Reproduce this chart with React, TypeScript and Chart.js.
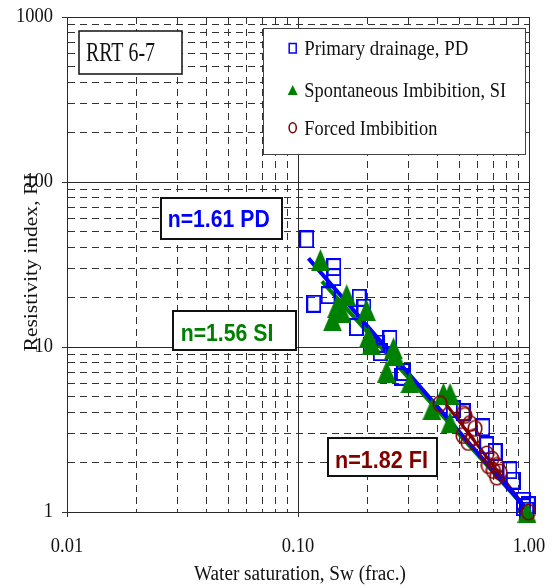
import React, { useEffect, useRef } from 'react';
import { Chart, registerables } from 'chart.js';

Chart.register(...registerables);

// Primary drainage (PD): water saturation (frac.) and resistivity index
const PD_SW = [0.109, 0.143, 0.143, 0.117, 0.135, 0.184, 0.193, 0.179, 0.205, 0.22, 0.25, 0.227, 0.286, 0.281, 0.47, 0.519, 0.632, 0.656, 0.713, 0.827, 0.855, 0.945, 0.993, 0.945, 0.977];
const PD_RI = [44.9, 30.5, 26.5, 18.3, 20.6, 19.9, 17.3, 13.2, 10.2, 10.5, 11.2, 9.3, 7.05, 6.6, 4.2, 4.03, 3.26, 2.53, 2.31, 1.79, 1.55, 1.17, 1.1, 1.07, 1.02];

// Spontaneous imbibition (SI)
const SI_SW = [0.125, 0.1625, 0.147, 0.141, 0.155, 0.198, 0.2015, 0.208, 0.259, 0.242, 0.305, 0.263, 0.38, 0.426, 0.455, 0.455, 0.98];
const SI_RI = [33.6, 20.6, 17.5, 14.5, 16.3, 16.7, 11.5, 10.5, 9.8, 7.1, 6.1, 8.9, 4.2, 5.2, 5.2, 3.49, 1.0];

// Forced imbibition (FI)
const FI_SW = [0.412, 0.52, 0.528, 0.5555, 0.584, 0.518, 0.572, 0.545, 0.656, 0.69, 0.725, 0.667, 0.701, 0.749, 0.725, 0.995];
const FI_RI = [4.54, 3.95, 3.85, 3.44, 3.21, 2.91, 2.83, 2.64, 2.25, 2.1, 1.915, 1.915, 1.786, 1.744, 1.626, 1.0];

// Saturation exponents (RI = Sw^-n) and the Sw span of each fitted line
const N_PD = 1.61;
const N_SI = 1.56;
const N_FI = 1.82;
const FIT_SW_PD = [0.111, 1.0];
const FIT_SW_SI = [0.127, 1.0];
const FIT_SW_FI = [0.41, 1.0];

const SERIES_NAMES = ['Primary drainage, PD', 'Spontaneous Imbibition, SI', 'Forced Imbibition'];
const SAMPLE_NAME = 'RRT 6-7';

const X_TICKS = [0.01, 0.1, 1];
const X_TICK_LABELS = ['0.01', '0.10', '1.00'];
const Y_TICKS = [1, 10, 100, 1000];
const Y_TICK_LABELS = ['1', '10', '100', '1000'];
const X_TITLE = 'Water saturation, Sw (frac.)';
const Y_TITLE = 'Resistivity index, RI';

const BLUE = '#0000ff';
const GREEN = '#008000';
const DARK_RED = '#800000';
const INK = '#111111';
const SERIF = '"Liberation Serif", "Times New Roman", serif';
const SANS = '"Liberation Sans", Arial, sans-serif';

const toPoints = (xs: number[], ys: number[]) => xs.map((x, i) => ({ x, y: ys[i] }));
const fitLine = (span: number[], n: number) => span.map((sw) => ({ x: sw, y: Math.pow(sw, -n) }));

// grid positions: 1..9 times every decade, plus the upper limit
function decadeGrid(lo: number, hi: number) {
  const out: { value: number }[] = [];
  for (let d = lo; d < hi * 0.999; d *= 10) {
    for (let m = 1; m <= 9; m++) out.push({ value: +(m * d).toPrecision(6) });
  }
  out.push({ value: hi });
  return out;
}

const isDecade = (v: number) => {
  const l = Math.log10(v);
  return Math.abs(l - Math.round(l)) < 1e-6;
};

function drawLabel(
  ctx: CanvasRenderingContext2D,
  str: string,
  x: number,
  y: number,
  font: string,
  color: string,
  align: 'left' | 'center' | 'right',
  fitWidth?: number,
  sx = 1,
  baseline: CanvasTextBaseline = 'alphabetic'
) {
  ctx.save();
  ctx.font = font;
  ctx.fillStyle = color;
  ctx.textAlign = 'left';
  ctx.textBaseline = baseline;
  const natural = ctx.measureText(str).width;
  const s = fitWidth ? fitWidth / natural : sx;
  const w = natural * s;
  const left = align === 'center' ? x - w / 2 : align === 'right' ? x - w : x;
  ctx.translate(left, y);
  ctx.scale(s, 1);
  ctx.fillText(str, 0, 0);
  ctx.restore();
}

function boxed(ctx: CanvasRenderingContext2D, x: number, y: number, w: number, h: number, lw: number, color: string) {
  ctx.save();
  ctx.fillStyle = '#ffffff';
  ctx.fillRect(x, y, w, h);
  ctx.lineWidth = lw;
  ctx.strokeStyle = color;
  ctx.strokeRect(x, y, w, h);
  ctx.restore();
}

function makeSquare() {
  const c = document.createElement('canvas');
  c.width = 15;
  c.height = 18;
  const g = c.getContext('2d')!;
  g.strokeStyle = BLUE;
  g.lineWidth = 2;
  g.strokeRect(1, 1, 13, 16);
  return c;
}

function makeTriangle() {
  const c = document.createElement('canvas');
  c.width = 19;
  c.height = 22;
  const g = c.getContext('2d')!;
  g.fillStyle = GREEN;
  g.beginPath();
  g.moveTo(9.5, 0);
  g.lineTo(19, 22);
  g.lineTo(0, 22);
  g.closePath();
  g.fill();
  return c;
}

function makeCircle() {
  const c = document.createElement('canvas');
  c.width = 16;
  c.height = 18;
  const g = c.getContext('2d')!;
  g.strokeStyle = DARK_RED;
  g.lineWidth = 1.6;
  g.beginPath();
  g.ellipse(8, 9, 6.8, 7.8, 0, 0, Math.PI * 2);
  g.stroke();
  return c;
}

const decorPlugin = {
  id: 'decor',
  afterDraw(chart: any) {
    const ctx: CanvasRenderingContext2D = chart.ctx;
    const xs = chart.scales.x;
    const ys = chart.scales.y;
    const area = chart.chartArea;

    // outward ticks at the decades
    ctx.save();
    ctx.strokeStyle = '#333';
    ctx.lineWidth = 1;
    Y_TICKS.forEach((v) => {
      const py = Math.round(ys.getPixelForValue(v)) + 0.5;
      ctx.beginPath();
      ctx.moveTo(area.left - 5, py);
      ctx.lineTo(area.left, py);
      ctx.stroke();
    });
    X_TICKS.forEach((v) => {
      const px = Math.round(xs.getPixelForValue(v)) + 0.5;
      ctx.beginPath();
      ctx.moveTo(px, area.bottom);
      ctx.lineTo(px, area.bottom + 5);
      ctx.stroke();
    });
    ctx.restore();

    // tick labels
    const tickFont = `21px ${SERIF}`;
    Y_TICKS.forEach((v, i) =>
      drawLabel(ctx, Y_TICK_LABELS[i], area.left - 14, ys.getPixelForValue(v) - 1, tickFont, INK, 'right', undefined, 0.88, 'middle')
    );
    X_TICKS.forEach((v, i) =>
      drawLabel(ctx, X_TICK_LABELS[i], xs.getPixelForValue(v), area.bottom + 39.5, tickFont, INK, 'center', undefined, 0.88)
    );

    // axis titles
    drawLabel(ctx, X_TITLE, (area.left + area.right) / 2 + 2, 580, `20px ${SERIF}`, INK, 'center', 212);
    ctx.save();
    ctx.font = `21px ${SERIF}`;
    const along = 178 / ctx.measureText(Y_TITLE).width;
    ctx.translate(37.3, 262.5);
    ctx.rotate(-Math.PI / 2);
    ctx.scale(along, 0.85);
    ctx.fillStyle = INK;
    ctx.textAlign = 'center';
    ctx.textBaseline = 'alphabetic';
    ctx.fillText(Y_TITLE, 0, 0);
    ctx.restore();

    // sample name
    boxed(ctx, 79, 31, 103, 43, 1.5, '#111');
    drawLabel(ctx, SAMPLE_NAME, 86, 61, `27px ${SERIF}`, INK, 'left', 69);

    // legend
    boxed(ctx, 263.5, 28.5, 262, 126, 1, '#444');
    const lx = 292.7;
    ctx.save();
    ctx.strokeStyle = BLUE;
    ctx.lineWidth = 1.5;
    ctx.strokeRect(lx - 3.5, 43.5, 7, 9.5);
    ctx.fillStyle = GREEN;
    ctx.beginPath();
    ctx.moveTo(lx, 85);
    ctx.lineTo(lx + 5, 95);
    ctx.lineTo(lx - 5, 95);
    ctx.closePath();
    ctx.fill();
    ctx.strokeStyle = DARK_RED;
    ctx.beginPath();
    ctx.ellipse(lx, 127.7, 3.6, 5, 0, 0, Math.PI * 2);
    ctx.stroke();
    ctx.restore();
    const legendFont = `22px ${SERIF}`;
    drawLabel(ctx, SERIES_NAMES[0], 304.3, 55, legendFont, INK, 'left', 164);
    drawLabel(ctx, SERIES_NAMES[1], 304.3, 96.7, legendFont, INK, 'left', 201.7);
    drawLabel(ctx, SERIES_NAMES[2], 304.3, 135, legendFont, INK, 'left', 133);

    // saturation exponent labels
    const nFont = `bold 23px ${SANS}`;
    boxed(ctx, 161, 198, 121, 41, 2, '#111');
    drawLabel(ctx, `n=${N_PD.toFixed(2)} PD`, 167.7, 226.7, nFont, BLUE, 'left', 102);
    boxed(ctx, 173, 311, 123, 39, 2, '#111');
    drawLabel(ctx, `n=${N_SI.toFixed(2)} SI`, 180.7, 341, nFont, GREEN, 'left', 92.6);
    boxed(ctx, 328, 438, 109, 38, 2, '#111');
    drawLabel(ctx, `n=${N_FI.toFixed(2)} FI`, 335, 468.3, nFont, DARK_RED, 'left', 93);
  },
};

function axisOptions(lo: number, hi: number) {
  return {
    type: 'logarithmic' as const,
    min: lo,
    max: hi,
    afterBuildTicks: (scale: any) => {
      scale.ticks = decadeGrid(lo, hi);
    },
    ticks: { display: false },
    grid: {
      drawTicks: false,
      lineWidth: 1,
      color: (c: any) => (c.tick && isDecade(c.tick.value) ? '#2a2a2a' : '#333333'),
    },
    border: {
      display: true,
      color: '#2a2a2a',
      width: 1,
      dash: (c: any) => (c.tick && !isDecade(c.tick.value) ? [7, 5] : []),
    },
  };
}

export default function App() {
  const canvasRef = useRef<HTMLCanvasElement | null>(null);

  useEffect(() => {
    if (!canvasRef.current) return;
    const square = makeSquare();
    const triangle = makeTriangle();
    const circle = makeCircle();

    const markerSet = (style: HTMLCanvasElement, order: number) => ({
      pointStyle: style as any,
      pointRadius: 7,
      pointHoverRadius: 7,
      showLine: false,
      clip: false as any,
      order,
    });
    const lineSet = (color: string, width: number, order: number) => ({
      showLine: true,
      borderColor: color,
      backgroundColor: color,
      borderWidth: width,
      pointRadius: 0,
      pointHoverRadius: 0,
      order,
    });

    const chart = new Chart(canvasRef.current, {
      type: 'scatter',
      data: {
        datasets: [
          { label: SERIES_NAMES[2], data: toPoints(FI_SW, FI_RI), ...markerSet(circle, 0) },
          { label: SERIES_NAMES[1], data: toPoints(SI_SW, SI_RI), ...markerSet(triangle, 1) },
          { label: SERIES_NAMES[0], data: toPoints(PD_SW, PD_RI), ...markerSet(square, 2) },
          { label: 'PD fit', data: fitLine(FIT_SW_PD, N_PD), ...lineSet(BLUE, 4, 3) },
          { label: 'FI fit', data: fitLine(FIT_SW_FI, N_FI), ...lineSet(DARK_RED, 3, 4) },
          { label: 'SI fit', data: fitLine(FIT_SW_SI, N_SI), ...lineSet(GREEN, 4, 5) },
        ] as any,
      },
      options: {
        animation: false,
        responsive: false,
        devicePixelRatio: 1,
        layout: { padding: { left: 67, right: 23, top: 17, bottom: 76 } },
        plugins: {
          legend: { display: false },
          tooltip: { enabled: false },
        },
        scales: {
          x: axisOptions(0.01, 1),
          y: axisOptions(1, 1000),
        } as any,
      },
      plugins: [decorPlugin],
    });

    return () => chart.destroy();
  }, []);

  return (
    <div style={{ position: 'fixed', left: 0, top: 0, width: 552, height: 588, background: '#ffffff' }}>
      <canvas ref={canvasRef} width={552} height={588} style={{ display: 'block' }} />
    </div>
  );
}
